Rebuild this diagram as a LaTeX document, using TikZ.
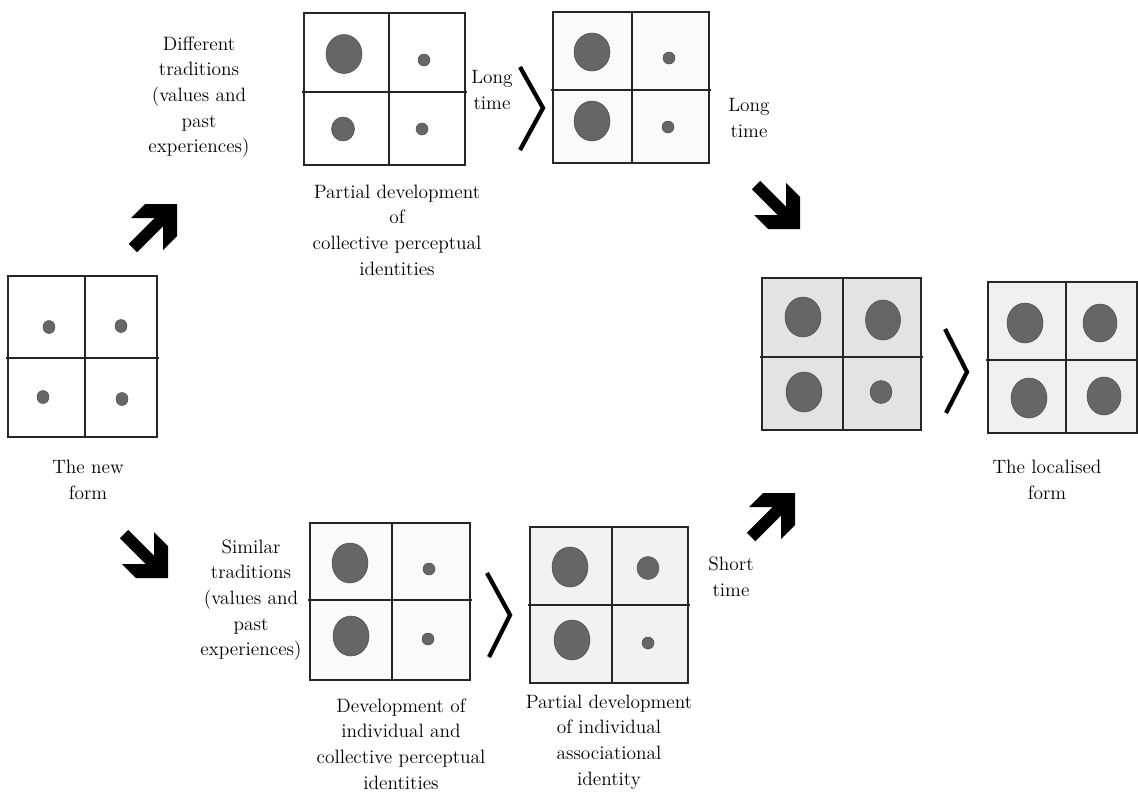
\documentclass[tikz,border=0pt]{standalone}
\usepackage{tikz}

% pixel-like units: x to the right, y downwards
\tikzset{
  gridline/.style={draw=black!85, line width=0.03cm},
  blobfill/.style={fill=black!60, draw=black!70, line width=0.01cm},
  chev/.style={line width=0.085cm, line join=miter, line cap=butt},
  lbl/.style={align=center, inner sep=0pt, font={\fontsize{11}{14.6}\selectfont}},
  turnarrow/.pic={
    \fill (0,0) -- (-32,0) -- (-46,14) -- (-14,14) -- (-14,46) -- (0,32) -- cycle;
    \draw[line width=0.24cm, line cap=butt] (-8,8) -- (-44,44);
  }
}

% #1 fill, #2 left, #3 top, #4 right, #5 bottom, #6 middle x, #7 middle y
\newcommand\gridbox[7]{%
  \filldraw[gridline, fill=#1] (#2,#3) rectangle (#4,#5);
  \draw[gridline] (#6,#3) -- (#6,#5);
  \draw[gridline] (#2-2,#7) -- (#4+2,#7);
}
% #1 x, #2 y, #3 x radius, #4 y radius
\newcommand\blob[4]{%
  \filldraw[blobfill] (#1,#2) ellipse [x radius={#3*0.02cm}, y radius={#4*0.02cm}];
}

\begin{document}
\begin{tikzpicture}[x=0.02cm, y=-0.02cm]
\useasboundingbox (0,0) rectangle (1138,795);

% the new form
\gridbox{white}{8}{276}{157}{437}{85}{358}
\blob{49}{327}{6}{6.5}
\blob{121}{326}{6}{6.5}
\blob{43}{397}{6}{6.5}
\blob{122}{399}{6}{6.5}

% upper branch
\gridbox{white}{304}{13}{465}{165}{389}{92}
\blob{344}{54}{18}{19.5}
\blob{424}{60}{6}{6}
\blob{343}{129}{11.5}{12}
\blob{422}{129}{6}{6}

\gridbox{black!2}{553}{12}{709}{163}{632}{90}
\blob{592}{52}{18}{19}
\blob{669}{58}{6}{6}
\blob{592}{121}{18}{20}
\blob{668}{127}{6}{6}

% merged result and the localised form
\gridbox{black!11}{762}{278}{921}{430}{843}{357}
\blob{803}{317}{18}{20}
\blob{883}{320}{17.5}{20}
\blob{804}{392}{18}{20}
\blob{881}{392}{11}{11.5}

\gridbox{black!6}{988}{282}{1137}{433}{1066}{360}
\blob{1025}{323}{18}{20}
\blob{1100}{323}{17}{19}
\blob{1029}{398}{18}{20}
\blob{1104}{396}{17}{19}

% lower branch
\gridbox{black!2}{310}{523}{470}{680}{392}{600}
\blob{350}{563}{18}{20}
\blob{429}{569}{6}{6}
\blob{351}{636}{18}{20}
\blob{428}{639}{6}{6}

\gridbox{black!5}{530}{527}{688}{683}{612}{605}
\blob{570}{567}{18}{20}
\blob{648}{568}{11}{11.5}
\blob{572}{640}{18}{20}
\blob{648}{643}{6}{6}

% chevrons between stages
\draw[chev] (520,67) -- (543,108) -- (520,150);
\draw[chev] (945,329) -- (967,372) -- (946,413);
\draw[chev] (487,573) -- (510,615) -- (489,657);

% turning arrows
\pic at (177,204) {turnarrow};
\pic[yscale=-1] at (800,229) {turnarrow};
\pic at (795,493) {turnarrow};
\pic[yscale=-1] at (168,578) {turnarrow};

% labels
\node[lbl] (diff) at (199,97) {Different\\traditions\\(values and\\past\\experiences)};
\node[lbl] (pcoll) at (397,230) {Partial development\\of\\collective perceptual\\identities};
\node[lbl] (long1) at (492,90) {Long\\time};
\node[lbl] (long2) at (749,118) {Long\\time};
\node[lbl] (newf) at (88,480) {The new\\form};
\node[lbl] (simil) at (251,600) {Similar\\traditions\\(values and\\past\\experiences)};
\node[lbl] (devic) at (401,744) {Development of\\individual and\\collective perceptual\\identities};
\node[lbl] (pind) at (609,742) {Partial development\\of individual\\associational\\identity};
\node[lbl] (short) at (731,577) {Short\\time};
\node[lbl] (local) at (1047,480) {The localised\\form};
\end{tikzpicture}
\end{document}
